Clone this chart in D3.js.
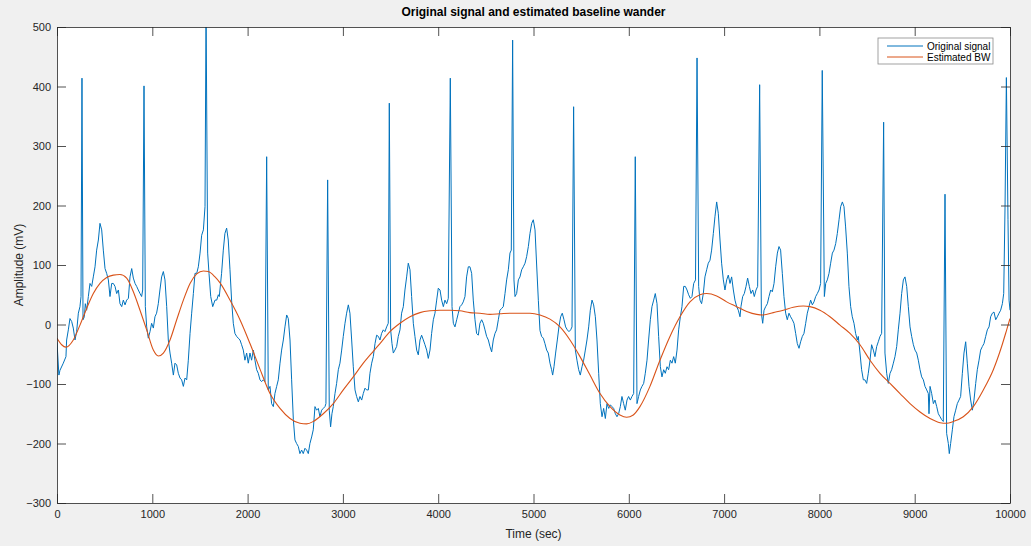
<!DOCTYPE html>
<html lang="en">
  <head>
    <meta charset="UTF-8" />
    <title>Original signal and estimated baseline wander</title>
    <script src="https://d3js.org/d3.v7.min.js"></script>
    <style>
      body {
        margin: 0;
        background-color: #f0f0f0;
        font-family: "Liberation Sans", Arial, sans-serif;
      }

      .tick text {
        font-size: 11px;
        fill: #262626;
      }

      .tick line,
      .domain {
        stroke: #262626;
        stroke-width: 0.8;
      }
    </style>
  </head>

  <body>
    <div id="chart"></div>

    <script>
      // Original signal: sample index and amplitude (mV)
      const signalTime = [
        0, 20, 31, 66, 94, 101, 119, 136, 154, 171, 189, 206, 224, 241, 252, 262, 273, 287, 297, 311,
        329, 346, 364, 381, 399, 416, 434, 451, 469, 486, 504, 521, 539, 556, 574, 591, 609, 626, 644, 661,
        679, 696, 714, 731, 749, 766, 784, 801, 819, 836, 853, 871, 888, 899, 913, 927, 941, 958, 976, 993,
        1011, 1028, 1045, 1063, 1080, 1098, 1116, 1133, 1151, 1168, 1186, 1203, 1221, 1238, 1256, 1273, 1291, 1308, 1326, 1343,
        1361, 1378, 1396, 1413, 1431, 1448, 1466, 1483, 1501, 1518, 1536, 1553, 1564, 1581, 1595, 1613, 1634, 1658, 1676, 1693,
        1703, 1727, 1745, 1762, 1780, 1797, 1815, 1832, 1850, 1867, 1885, 1902, 1920, 1937, 1955, 1972, 1990, 2007, 2025, 2042,
        2060, 2077, 2095, 2112, 2130, 2147, 2165, 2182, 2200, 2217, 2235, 2252, 2270, 2287, 2305, 2322, 2340, 2357, 2375, 2392,
        2410, 2427, 2445, 2462, 2480, 2497, 2514, 2532, 2549, 2567, 2584, 2602, 2619, 2637, 2654, 2672, 2689, 2707, 2724, 2742,
        2759, 2777, 2794, 2812, 2822, 2840, 2857, 2871, 2885, 2899, 2917, 2934, 2952, 2969, 2987, 3004, 3022, 3039, 3057, 3074,
        3092, 3109, 3127, 3144, 3162, 3179, 3197, 3214, 3232, 3249, 3267, 3284, 3302, 3319, 3337, 3354, 3372, 3389, 3406, 3424,
        3441, 3459, 3476, 3487, 3501, 3515, 3529, 3546, 3564, 3581, 3599, 3616, 3634, 3651, 3669, 3686, 3704, 3721, 3739, 3756,
        3774, 3791, 3809, 3826, 3844, 3861, 3879, 3896, 3914, 3931, 3949, 3966, 3984, 4001, 4019, 4036, 4054, 4071, 4089, 4106,
        4127, 4145, 4159, 4176, 4194, 4211, 4228, 4246, 4263, 4281, 4298, 4316, 4333, 4351, 4368, 4386, 4403, 4421, 4438, 4456,
        4473, 4491, 4508, 4526, 4543, 4561, 4578, 4596, 4613, 4631, 4648, 4666, 4683, 4701, 4718, 4736, 4753, 4767, 4781, 4795,
        4806, 4823, 4841, 4858, 4876, 4893, 4911, 4928, 4946, 4963, 4981, 4998, 5016, 5033, 5051, 5068, 5085, 5103, 5120, 5138,
        5155, 5173, 5190, 5201, 5215, 5232, 5250, 5267, 5285, 5302, 5320, 5337, 5355, 5372, 5390, 5404, 5421, 5439, 5456, 5474,
        5491, 5509, 5526, 5544, 5561, 5579, 5596, 5614, 5631, 5649, 5666, 5684, 5701, 5719, 5736, 5754, 5771, 5789, 5806, 5824,
        5841, 5859, 5876, 5893, 5911, 5928, 5946, 5963, 5981, 5998, 6016, 6033, 6051, 6068, 6086, 6103, 6121, 6138, 6156, 6173,
        6191, 6208, 6226, 6243, 6261, 6278, 6296, 6313, 6331, 6348, 6366, 6383, 6401, 6418, 6436, 6453, 6471, 6488, 6506, 6523,
        6541, 6558, 6576, 6593, 6611, 6628, 6646, 6663, 6681, 6700, 6716, 6733, 6747, 6764, 6782, 6799, 6817, 6834, 6852, 6869,
        6887, 6904, 6922, 6939, 6957, 6974, 6992, 7009, 7027, 7044, 7062, 7079, 7097, 7114, 7132, 7149, 7167, 7177, 7195, 7212,
        7230, 7247, 7265, 7282, 7300, 7317, 7335, 7352, 7373, 7391, 7405, 7419, 7436, 7454, 7471, 7489, 7506, 7524, 7541, 7559,
        7576, 7593, 7611, 7628, 7646, 7663, 7681, 7698, 7716, 7733, 7751, 7768, 7786, 7803, 7821, 7838, 7856, 7873, 7891, 7908,
        7926, 7943, 7961, 7978, 7996, 8013, 8030, 8052, 8066, 8083, 8101, 8118, 8136, 8153, 8171, 8188, 8206, 8223, 8241, 8258,
        8275, 8293, 8310, 8328, 8345, 8363, 8380, 8398, 8408, 8426, 8443, 8461, 8478, 8496, 8513, 8531, 8548, 8566, 8583, 8601,
        8618, 8636, 8653, 8674, 8688, 8706, 8723, 8741, 8758, 8776, 8793, 8811, 8828, 8846, 8863, 8881, 8898, 8916, 8933, 8951,
        8968, 8986, 9003, 9021, 9038, 9056, 9073, 9091, 9108, 9126, 9143, 9150, 9161, 9178, 9196, 9213, 9231, 9248, 9266, 9283,
        9300, 9318, 9335, 9353, 9363, 9377, 9395, 9412, 9430, 9447, 9465, 9482, 9500, 9517, 9535, 9552, 9570, 9587, 9605, 9622,
        9640, 9657, 9675, 9692, 9710, 9727, 9745, 9762, 9780, 9797, 9815, 9832, 9850, 9867, 9885, 9902, 9920, 9934, 9948, 9962,
        9979, 9990, 10000
      ];
      const signalValue = [
        -30, -85, -77, -65, -54, -26, -9, 10, 5, -6, -26, -12, 19, 30, 47, 414, 8, 13, 35, 24,
        47, 69, 64, 80, 97, 125, 142, 170, 159, 125, 94, 86, 75, 47, 69, 69, 64, 52, 58, 35,
        30, 41, 33, 41, 44, 80, 94, 78, 69, 64, 58, 52, 47, 58, 401, 30, -4, -23, -12, 2,
        -6, 13, 19, 35, 58, 80, 89, 75, 30, -26, -48, -65, -85, -65, -68, -82, -90, -93, -104, -90,
        -93, -60, -15, 19, 52, 86, 86, 97, 120, 150, 159, 198, 530, 120, 86, 47, 30, 41, 41, 50,
        47, 86, 125, 153, 162, 142, 92, 41, 2, -15, -20, -23, -26, -34, -43, -60, -48, -65, -48, -60,
        -43, -60, -76, -82, -93, -96, -93, -96, 282, -110, -104, -133, -138, -116, -104, -93, -65, -43, -26, -4,
        16, 10, -26, -93, -160, -194, -200, -205, -217, -211, -217, -208, -211, -217, -200, -189, -177, -138, -144, -141,
        -155, -144, -141, -138, -133, 243, -144, -172, -150, -138, -116, -99, -76, -65, -43, -20, 2, 19, 33, 19,
        -26, -71, -110, -121, -130, -121, -127, -116, -107, -110, -110, -82, -65, -54, -32, -18, -20, -26, -15, -9,
        -12, -4, 2, 372, -9, -32, -48, -43, -37, -20, -9, 19, 30, 58, 80, 103, 92, 47, 2, -20,
        -43, -51, -26, -18, -26, -34, -43, -57, -43, -15, 8, 19, 41, 61, 58, 41, 30, 41, 35, 44,
        414, 30, 2, -4, 8, 19, 30, 33, 38, 47, 80, 97, 97, 86, 41, 8, -15, -18, 2, 8,
        2, -9, -20, -26, -37, -46, -26, -15, -9, 8, 24, 27, 30, 52, 75, 92, 120, 125, 478, 75,
        47, 52, 75, 80, 92, 97, 103, 114, 131, 153, 170, 176, 159, 100, 40, -10, -20, -23, -32, -43,
        -48, -65, -76, -85, -71, -48, -26, -4, 13, 19, 8, -4, -9, -12, -9, -4, 366, -43, -60, -76,
        -85, -71, -60, -43, -26, -4, 24, 41, 33, 13, -26, -82, -133, -155, -141, -158, -133, -141, -135, -138,
        -141, -150, -155, -150, -138, -121, -133, -144, -127, -121, -127, -121, -116, 282, -133, -121, -110, -104, -99, -82,
        -60, -26, 8, 30, 41, 52, 35, -20, -71, -88, -76, -82, -71, -76, -60, -65, -54, -65, -43, -9,
        13, 30, 64, 64, 58, 50, 44, 47, 69, 75, 448, 64, 41, 35, 52, 80, 92, 103, 108, 125,
        153, 181, 206, 187, 142, 103, 75, 58, 75, 83, 69, 80, 58, 41, 30, 24, 13, 30, 47, 52,
        64, 78, 64, 52, 58, 47, 58, 64, 403, 19, 2, 24, 30, 35, 47, 58, 55, 69, 97, 120,
        131, 125, 86, 47, 19, 8, 19, 13, 8, 2, -15, -32, -40, -29, -20, -15, 2, 19, 30, 41,
        33, 38, 47, 52, 58, 69, 427, 47, 69, 75, 86, 103, 120, 125, 136, 153, 176, 198, 206, 198,
        164, 120, 64, 30, 13, 2, -15, -26, -20, -48, -76, -93, -93, -99, -82, -60, -34, -43, -54, -37,
        -29, -20, -15, 340, -48, -82, -99, -82, -76, -65, -54, -37, -9, 19, 52, 75, 80, 64, 30, -4,
        -20, -34, -43, -48, -60, -76, -88, -93, -104, -110, -116, -150, -104, -116, -133, -127, -138, -150, -155, -160,
        -163, 219, -183, -200, -217, -200, -177, -155, -144, -133, -127, -121, -82, -48, -29, -65, -104, -127, -144, -127,
        -99, -76, -60, -43, -37, -32, -20, -9, -4, 13, 19, 21, 8, 13, 19, 24, 35, 52, 198, 415,
        176, 41, 24
      ];

      // Estimated baseline wander
      const bwTime = [
        0, 49, 94, 171, 241, 311, 381, 451, 521, 591, 661, 731, 801, 871, 941, 1011, 1063, 1116, 1186, 1256,
        1326, 1396, 1466, 1536, 1588, 1658, 1711, 1815, 1920, 2025, 2130, 2235, 2340, 2445, 2549, 2619, 2689, 2794, 2899, 3004,
        3109, 3214, 3319, 3389, 3494, 3599, 3704, 3809, 3914, 4019, 4124, 4228, 4333, 4438, 4543, 4648, 4753, 4858, 4963, 5068,
        5173, 5278, 5383, 5488, 5593, 5698, 5803, 5907, 5977, 6047, 6117, 6222, 6327, 6432, 6537, 6642, 6747, 6817, 6922, 7027,
        7132, 7237, 7342, 7412, 7516, 7621, 7726, 7831, 7901, 8006, 8111, 8216, 8321, 8426, 8531, 8636, 8741, 8846, 8951, 9056,
        9161, 9266, 9335, 9405, 9510, 9615, 9720, 9825, 9912, 9965, 10000
      ];
      const bwValue = [
        -23, -34, -38, -26, -1, 27, 52, 69, 79, 83, 84, 78, 55, 24, -9, -43, -53, -48, -26, 8,
        41, 69, 85, 90, 89, 80, 70, 41, 8, -32, -75, -116, -141, -158, -166, -167, -163, -150, -133, -110,
        -88, -65, -45, -32, -12, 2, 13, 20, 23, 24, 24, 23, 20, 19, 17, 18, 19, 19, 19, 16,
        9, -4, -26, -54, -85, -116, -138, -152, -156, -152, -138, -104, -60, -20, 13, 38, 50, 52, 48, 38,
        30, 22, 17, 16, 20, 24, 29, 31, 30, 24, 13, -1, -15, -34, -60, -82, -99, -116, -133, -147,
        -158, -165, -166, -163, -155, -138, -110, -76, -37, -9, 10
      ];

      const xTicks = d3.range(0, 10001, 1000);
      const yTicks = d3.range(-300, 501, 100);
      const seriesNames = ["Original signal", "Estimated BW"];
      const seriesColors = ["#0072bd", "#d95319"];

      const W = 1031;
      const H = 546;
      const margin = { top: 27, right: 21, bottom: 43, left: 57 };
      const width = W - margin.left - margin.right;
      const height = H - margin.top - margin.bottom;

      const x = d3.scaleLinear().domain([0, 10000]).range([0, width]);
      const y = d3.scaleLinear().domain([-300, 500]).range([height, 0]);

      const svg = d3
        .select("#chart")
        .append("svg")
        .attr("width", W)
        .attr("height", H)
        .style("display", "block");

      svg.append("rect").attr("width", W).attr("height", H).attr("fill", "#f0f0f0");

      const g = svg
        .append("g")
        .attr("transform", `translate(${margin.left},${margin.top})`);

      g.append("rect")
        .attr("width", width)
        .attr("height", height)
        .attr("fill", "#ffffff");

      g.append("clipPath")
        .attr("id", "clip")
        .append("rect")
        .attr("width", width)
        .attr("height", height);

      const signal = signalTime.map((t, i) => [t, signalValue[i]]);
      const bw = bwTime.map((t, i) => [t, bwValue[i]]);

      const plot = g.append("g").attr("clip-path", "url(#clip)");

      plot
        .append("path")
        .datum(signal)
        .attr("fill", "none")
        .attr("stroke", seriesColors[0])
        .attr("stroke-width", 1)
        .attr("stroke-linejoin", "round")
        .attr("d", d3.line().x((d) => x(d[0])).y((d) => y(d[1])));

      plot
        .append("path")
        .datum(bw)
        .attr("fill", "none")
        .attr("stroke", seriesColors[1])
        .attr("stroke-width", 1.1)
        .attr(
          "d",
          d3
            .line()
            .curve(d3.curveMonotoneX)
            .x((d) => x(d[0]))
            .y((d) => y(d[1]))
        );

      // axes, ticks pointing inward on all four sides (box on)
      const fmt = d3.format("d");

      g.append("g")
        .attr("transform", `translate(0,${height})`)
        .call(
          d3.axisBottom(x).tickValues(xTicks).tickFormat(fmt)
            .tickSize(-9).tickSizeOuter(0).tickPadding(7)
        );

      g.append("g")
        .call(d3.axisTop(x).tickValues(xTicks).tickSize(-9).tickSizeOuter(0).tickFormat(""));

      g.append("g")
        .call(
          d3.axisLeft(y).tickValues(yTicks).tickFormat(fmt)
            .tickSize(-9).tickSizeOuter(0).tickPadding(6)
        );

      g.append("g")
        .attr("transform", `translate(${width},0)`)
        .call(d3.axisRight(y).tickValues(yTicks).tickSize(-9).tickSizeOuter(0).tickFormat(""));

      svg.selectAll(".tick text").attr("font-family", null).attr("font-size", null);

      // title and axis labels
      svg
        .append("text")
        .attr("x", margin.left + width / 2)
        .attr("y", 16)
        .attr("text-anchor", "middle")
        .style("font-size", "12px")
        .style("font-weight", "bold")
        .attr("fill", "#000")
        .text("Original signal and estimated baseline wander");

      svg
        .append("text")
        .attr("x", margin.left + width / 2)
        .attr("y", 538)
        .attr("text-anchor", "middle")
        .style("font-size", "12px")
        .attr("fill", "#262626")
        .text("Time (sec)");

      svg
        .append("text")
        .attr("transform", `translate(23,${margin.top + height / 2}) rotate(-90)`)
        .attr("text-anchor", "middle")
        .style("font-size", "12px")
        .attr("fill", "#262626")
        .text("Amplitude (mV)");

      // legend
      const legend = svg.append("g").attr("transform", "translate(878,38)");
      legend
        .append("rect")
        .attr("width", 115)
        .attr("height", 26)
        .attr("fill", "#fff")
        .attr("stroke", "#8a8a8a")
        .attr("stroke-width", 0.8);

      seriesNames.forEach((name, i) => {
        const row = legend.append("g").attr("transform", `translate(0,${8 + i * 11})`);
        row
          .append("line")
          .attr("x1", 9)
          .attr("x2", 45)
          .attr("stroke", seriesColors[i])
          .attr("stroke-width", 1);
        row
          .append("text")
          .attr("x", 49)
          .attr("dy", "0.35em")
          .style("font-size", "10px")
          .attr("fill", "#000")
          .text(name);
      });
    </script>
  </body>
</html>
